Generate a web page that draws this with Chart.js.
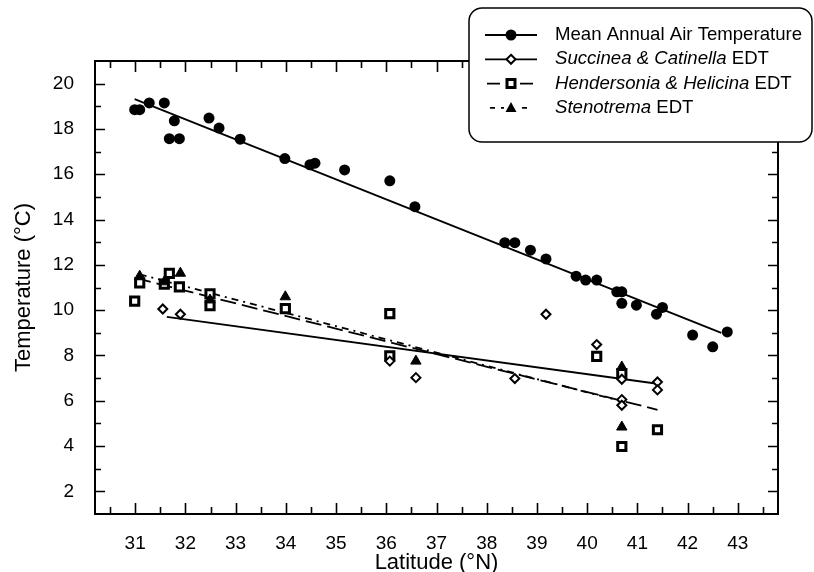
<!DOCTYPE html>
<html>
  <head>
    <title>Temperature vs Latitude</title>
    <script src="https://cdn.jsdelivr.net/npm/chart.js"></script>
    <style>
      html,
      body {
        margin: 0;
        padding: 0;
        background: #fff;
      }
      canvas {
        display: block;
      }
    </style>
  </head>
  <body>
    <canvas id="tempChart" width="814" height="572"></canvas>

    <script>
      // Mean annual air temperature (filled circles)
      const maatLat = [30.99, 31.09, 31.28, 31.58, 31.68, 31.78, 31.88, 32.47, 32.67, 33.09, 33.98, 34.48, 34.58, 35.17, 36.07, 36.57, 38.36, 38.56, 38.87, 39.18, 39.78, 39.97, 40.19, 40.59, 40.69, 40.69, 40.98, 41.38, 41.5, 42.1, 42.5, 42.79];
      const maatTemp = [18.85, 18.85, 19.15, 19.15, 17.57, 18.36, 17.57, 18.48, 18.04, 17.55, 16.69, 16.42, 16.49, 16.19, 15.71, 14.57, 12.98, 12.98, 12.65, 12.26, 11.5, 11.33, 11.33, 10.81, 10.81, 10.3, 10.22, 9.82, 10.12, 8.9, 8.38, 9.04];

      // Succinea & Catinella EDT (open diamonds)
      const succLat = [31.55, 31.9, 36.07, 36.59, 38.56, 39.18, 40.19, 40.69, 40.69, 40.69, 41.4, 41.4];
      const succEdt = [10.05, 9.82, 7.75, 7.02, 6.98, 9.82, 8.48, 6.95, 6.05, 5.8, 6.83, 6.48];

      // Hendersonia & Helicina EDT (open squares)
      const hendLat = [30.99, 31.09, 31.58, 31.68, 31.88, 32.49, 32.49, 33.99, 36.07, 36.07, 40.19, 40.69, 40.69, 41.4];
      const hendEdt = [10.4, 11.2, 11.15, 11.62, 11.03, 10.72, 10.2, 10.07, 9.85, 7.98, 7.96, 7.2, 3.98, 4.72];

      // Stenotrema EDT (filled triangles)
      const stenLat = [31.09, 31.58, 31.9, 32.49, 33.99, 36.59, 40.69, 40.69];
      const stenEdt = [11.5, 11.25, 11.63, 10.45, 10.59, 7.75, 7.49, 4.84];

      // regression lines, end points
      const maatFitLat = [30.99, 42.67];
      const maatFitTemp = [19.32, 9.0];
      const succFitLat = [31.63, 41.4];
      const succFitEdt = [9.7, 6.75];
      const hendFitLat = [31.0, 41.4];
      const hendFitEdt = [11.42, 5.6];
      const stenFitLat = [31.09, 40.69];
      const stenFitEdt = [11.58, 5.97];

      // axis ticks
      const xTickValues = [31, 32, 33, 34, 35, 36, 37, 38, 39, 40, 41, 42, 43];
      const yTickValues = [2, 4, 6, 8, 10, 12, 14, 16, 18, 20];

      const FONT = '"Liberation Sans", Arial, Helvetica, sans-serif';
      Chart.defaults.font.family = FONT;
      Chart.defaults.color = "#000";

      function toPoints(xs, ys) {
        return xs.map((x, i) => ({ x: x, y: ys[i] }));
      }

      // frame plus inward ticks on all four sides
      const frameTicks = {
        id: "frameTicks",
        afterDatasetsDraw(chart) {
          const ctx = chart.ctx;
          const a = chart.chartArea;
          const xs = chart.scales.x;
          const ys = chart.scales.y;
          ctx.save();
          ctx.strokeStyle = "#000";
          ctx.lineWidth = 2;
          ctx.strokeRect(a.left, a.top, a.right - a.left, a.bottom - a.top);
          ctx.lineWidth = 1.6;
          ctx.beginPath();
          for (let v = 30.5; v <= 43.5; v += 0.5) {
            const px = Math.round(xs.getPixelForValue(v)) + 0.5;
            const len = Number.isInteger(v) ? 11 : 7;
            ctx.moveTo(px, a.bottom);
            ctx.lineTo(px, a.bottom - len);
            ctx.moveTo(px, a.top);
            ctx.lineTo(px, a.top + len);
          }
          for (let v = 2; v <= 20; v += 1) {
            const py = Math.round(ys.getPixelForValue(v)) + 0.5;
            const len = v % 2 === 0 ? 10 : 6;
            ctx.moveTo(a.left, py);
            ctx.lineTo(a.left + len, py);
            ctx.moveTo(a.right, py);
            ctx.lineTo(a.right - len, py);
          }
          ctx.stroke();
          ctx.restore();
        },
      };

      function drawMarker(ctx, kind, x, y) {
        ctx.beginPath();
        if (kind === "circle") {
          ctx.arc(x, y, 5.5, 0, Math.PI * 2);
          ctx.fillStyle = "#000";
          ctx.fill();
        } else if (kind === "diamond") {
          ctx.moveTo(x, y - 4.5);
          ctx.lineTo(x + 4.5, y);
          ctx.lineTo(x, y + 4.5);
          ctx.lineTo(x - 4.5, y);
          ctx.closePath();
          ctx.fillStyle = "#fff";
          ctx.fill();
          ctx.lineWidth = 2;
          ctx.stroke();
        } else if (kind === "square") {
          ctx.rect(x - 4, y - 4, 8, 8);
          ctx.fillStyle = "#fff";
          ctx.fill();
          ctx.lineWidth = 3;
          ctx.stroke();
        } else {
          ctx.moveTo(x, y - 6);
          ctx.lineTo(x + 5.5, y + 4);
          ctx.lineTo(x - 5.5, y + 4);
          ctx.closePath();
          ctx.fillStyle = "#000";
          ctx.fill();
        }
      }

      // boxed legend in the upper right, overlapping the frame
      const boxLegend = {
        id: "boxLegend",
        afterDraw(chart) {
          const ctx = chart.ctx;
          ctx.save();
          const bx = 469, by = 8, bw = 343, bh = 134, r = 13;
          ctx.beginPath();
          ctx.moveTo(bx + r, by);
          ctx.arcTo(bx + bw, by, bx + bw, by + bh, r);
          ctx.arcTo(bx + bw, by + bh, bx, by + bh, r);
          ctx.arcTo(bx, by + bh, bx, by, r);
          ctx.arcTo(bx, by, bx + bw, by, r);
          ctx.closePath();
          ctx.fillStyle = "#fff";
          ctx.fill();
          ctx.strokeStyle = "#000";
          ctx.lineWidth = 1.5;
          ctx.stroke();

          const rows = [
            { it: "", txt: "Mean Annual Air Temperature", mk: "circle", segs: [[485, 537]] },
            { it: "Succinea & Catinella", txt: " EDT", mk: "diamond", segs: [[485, 537]] },
            { it: "Hendersonia & Helicina", txt: " EDT", mk: "square", segs: [[487, 500], [520, 533]] },
            { it: "Stenotrema", txt: " EDT", mk: "triangle", segs: [[490, 495], [501, 504], [522, 527]] },
          ];
          rows.forEach((row, i) => {
            const y = 35 + i * 24.3;
            ctx.strokeStyle = "#000";
            ctx.lineWidth = 1.8;
            ctx.beginPath();
            row.segs.forEach((s) => {
              ctx.moveTo(s[0], y);
              ctx.lineTo(s[1], y);
            });
            ctx.stroke();
            drawMarker(ctx, row.mk, 511, y);

            ctx.fillStyle = "#000";
            ctx.textBaseline = "middle";
            let x = 555;
            if (row.it) {
              ctx.font = "italic 18.6px " + FONT;
              ctx.fillText(row.it, x, y);
              x += ctx.measureText(row.it).width;
            }
            ctx.font = "18.6px " + FONT;
            ctx.fillText(row.txt, x, y);
          });
          ctx.restore();
        },
      };

      const ctx = document.getElementById("tempChart").getContext("2d");
      const fitLine = {
        showLine: true,
        pointRadius: 0,
        borderColor: "#000",
        borderWidth: 1.8,
        order: 2,
      };

      new Chart(ctx, {
        type: "scatter",
        data: {
          datasets: [
            {
              label: "Mean Annual Air Temperature",
              data: toPoints(maatLat, maatTemp),
              pointStyle: "circle",
              pointRadius: 5.5,
              backgroundColor: "#000",
              borderColor: "#000",
              borderWidth: 0,
              order: 1,
            },
            {
              label: "Succinea & Catinella EDT",
              data: toPoints(succLat, succEdt),
              pointStyle: "rectRot",
              pointRadius: 4.5,
              backgroundColor: "#fff",
              borderColor: "#000",
              borderWidth: 2,
              order: 1,
            },
            {
              label: "Hendersonia & Helicina EDT",
              data: toPoints(hendLat, hendEdt),
              pointStyle: "rect",
              pointRadius: 5.8,
              backgroundColor: "#fff",
              borderColor: "#000",
              borderWidth: 3,
              order: 1,
            },
            {
              label: "Stenotrema EDT",
              data: toPoints(stenLat, stenEdt),
              pointStyle: "triangle",
              pointRadius: 6,
              backgroundColor: "#000",
              borderColor: "#000",
              borderWidth: 1,
              order: 0,
            },
            Object.assign({ label: "maat fit", data: toPoints(maatFitLat, maatFitTemp) }, fitLine),
            Object.assign({ label: "succ fit", data: toPoints(succFitLat, succFitEdt) }, fitLine),
            Object.assign({ label: "hend fit", data: toPoints(hendFitLat, hendFitEdt), borderDash: [16, 6] }, fitLine),
            Object.assign({ label: "sten fit", data: toPoints(stenFitLat, stenFitEdt), borderDash: [7, 5, 2, 5] }, fitLine),
          ],
        },
        options: {
          responsive: false,
          animation: false,
          layout: { padding: { top: 61, right: 36, left: 0, bottom: 0 } },
          plugins: {
            legend: { display: false },
            tooltip: { enabled: false },
          },
          scales: {
            x: {
              type: "linear",
              min: 30.2,
              max: 43.8,
              grid: { display: false },
              border: { display: false },
              ticks: { font: { size: 19 }, padding: 10, maxRotation: 0, autoSkip: false },
              afterBuildTicks: (s) => {
                s.ticks = xTickValues.map((v) => ({ value: v }));
              },
              afterFit: (s) => {
                s.height = 58;
              },
              title: {
                display: true,
                text: "Latitude (°N)",
                font: { size: 22, lineHeight: 0.8 },
                padding: { top: 0, bottom: 0 },
              },
            },
            y: {
              type: "linear",
              min: 1,
              max: 21,
              grid: { display: false },
              border: { display: false },
              ticks: { font: { size: 19 }, padding: 13 },
              afterBuildTicks: (s) => {
                s.ticks = yTickValues.map((v) => ({ value: v }));
              },
              afterFit: (s) => {
                s.width = 95;
              },
              title: {
                display: true,
                text: "Temperature (°C)",
                font: { size: 22, lineHeight: 0.8 },
                padding: { top: 15, bottom: 0 },
              },
            },
          },
        },
        plugins: [frameTicks, boxLegend],
      });
    </script>
  </body>
</html>
